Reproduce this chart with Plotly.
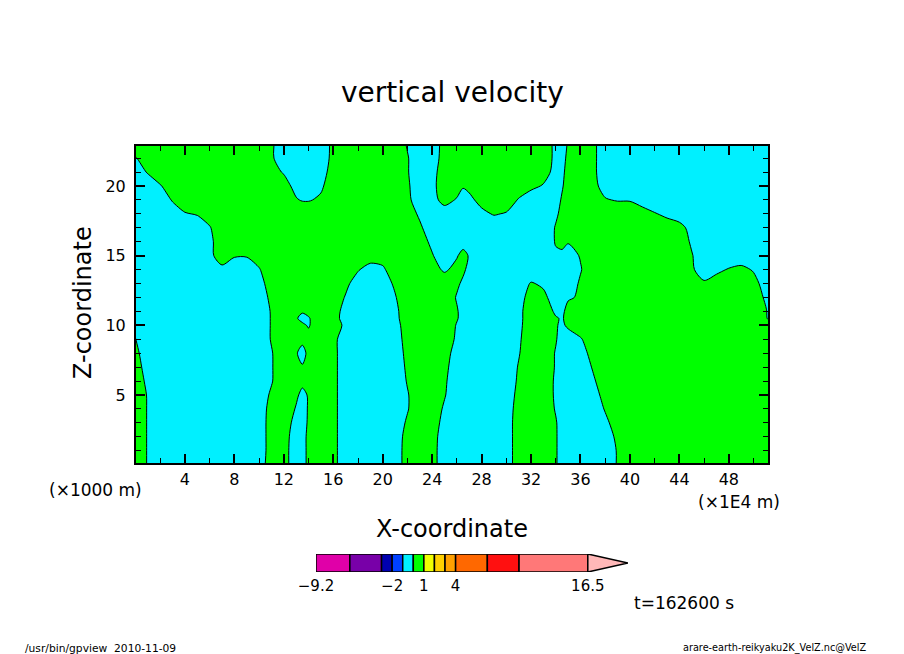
import plotly.graph_objects as go

# grid: only the sign change at w=0 is visible, values in 0.1 m/s
x_km = [0,1,2,3,4,5,6,7,8,9,10,11,12,13,13.5,14,15,16,17,18,19,20,21,22,23,24,25,26,26.5,27,28,29,30,31,32,33,34,34.5,35,36,37,38,39,40,41,42,43,44,45,46,47,48,49,50,51,51.2]
z_km = [0.1,1,2,3,4,5,6,7,8,9,10,10.5,11,12,13,14,15,16,17,18,19,20,21,22,22.9]
w_grid = [
	[9,-1,-10,-20,-26,-26,-26,-26,-24,-14,-5,5,4,-6,-3,2,12,3,-6,-16,-24,-15,-5,4,13,4,-6,-15,-20,-25,-24,-14,-5,5,14,11,1,-4,-8,-18,-18,-8,1,11,20,26,26,26,26,26,26,26,26,26,26,26],
	[9,-1,-10,-20,-26,-26,-26,-26,-24,-15,-5,4,4,-6,-3,2,12,3,-6,-16,-24,-15,-5,4,13,4,-6,-15,-20,-25,-24,-14,-5,5,14,10,1,-4,-9,-18,-18,-8,1,11,20,26,26,26,26,26,26,26,26,26,26,26],
	[9,-1,-10,-20,-26,-26,-26,-26,-24,-15,-5,4,4,-5,-3,2,12,3,-6,-16,-25,-15,-6,4,13,4,-5,-15,-20,-24,-24,-14,-5,5,14,10,1,-4,-9,-18,-16,-7,3,12,21,26,26,26,26,26,26,26,26,26,26,26],
	[9,-1,-10,-20,-26,-26,-26,-26,-24,-15,-5,4,6,-4,-3,1,11,3,-6,-16,-25,-17,-8,2,11,6,-4,-13,-18,-22,-24,-14,-5,5,14,10,1,-5,-9,-19,-12,-3,6,15,24,26,26,26,26,26,26,26,26,26,26,26],
	[9,-1,-10,-20,-26,-26,-26,-26,-25,-15,-6,4,8,-1,-4,1,10,3,-6,-16,-25,-19,-10,-1,9,8,-2,-11,-16,-20,-24,-14,-5,4,14,8,-1,-6,-11,-17,-8,1,9,18,26,26,26,26,26,26,26,26,26,26,26,26],
	[8,-1,-11,-20,-26,-26,-26,-26,-26,-16,-7,2,11,2,-3,1,11,3,-6,-16,-25,-20,-11,-1,8,10,1,-9,-14,-18,-25,-16,-6,3,13,8,-2,-7,-11,-14,-5,4,13,22,26,26,26,26,26,26,26,26,26,26,26,26],
	[7,-3,-12,-22,-26,-26,-26,-26,-26,-19,-10,-1,9,6,3,5,13,3,-6,-16,-25,-19,-9,1,9,11,2,-8,-13,-17,-26,-17,-8,2,11,8,-2,-7,-11,-11,-2,7,16,25,26,26,26,26,26,26,26,26,26,26,26,26],
	[5,-5,-14,-23,-26,-26,-26,-26,-26,-20,-11,-1,8,1,1,5,13,3,-6,-16,-25,-17,-7,2,11,12,3,-6,-11,-16,-25,-19,-9,1,10,8,-1,-6,-11,-8,1,10,19,26,26,26,26,26,26,26,26,26,26,26,26,26],
	[3,-7,-16,-25,-26,-26,-26,-26,-26,-19,-10,-1,9,1,-4,3,12,3,-6,-16,-25,-16,-6,3,13,14,5,-5,-9,-14,-23,-20,-10,-1,9,9,-1,-5,-10,-5,4,13,22,26,26,26,26,26,26,26,26,26,26,26,25,25],
	[1,-8,-18,-26,-26,-26,-26,-26,-26,-19,-9,1,10,5,3,4,12,3,-6,-15,-24,-15,-5,4,13,16,7,-2,-7,-12,-21,-21,-11,-2,8,10,1,-5,-6,-1,6,15,25,26,26,26,26,26,26,26,26,26,25,19,15,14],
	[-10,-13,-21,-26,-26,-26,-26,-26,-26,-18,-9,1,10,5,2,-1,8,7,-3,-12,-21,-14,-4,5,15,18,9,-1,-5,-10,-19,-21,-12,-3,7,10,1,-2,2,6,12,19,26,26,26,26,26,26,26,26,26,26,21,12,4,4],
	[-15,-18,-24,-26,-26,-26,-26,-26,-26,-18,-9,1,10,1,-3,-1,8,4,-4,-12,-22,-13,-3,6,15,19,10,1,-4,-9,-18,-22,-12,-3,6,9,1,-1,3,11,15,22,26,26,26,26,26,26,26,26,26,26,20,10,1,-1],
	[-20,-22,-26,-26,-26,-26,-26,-26,-26,-18,-8,1,10,1,1,3,11,5,-4,-13,-21,-12,-3,7,16,19,10,1,-4,-8,-18,-22,-13,-3,6,7,-2,-2,3,9,13,21,26,26,26,26,26,26,25,24,26,26,19,9,1,-2],
	[-26,-26,-26,-26,-26,-26,-25,-24,-26,-16,-7,3,12,10,10,12,17,8,-1,-11,-19,-10,-1,9,18,17,8,-1,-7,-11,-20,-23,-14,-5,5,3,-6,-5,-1,1,10,19,26,26,26,26,26,22,16,13,16,20,16,7,-2,-4],
	[-26,-26,-26,-26,-26,-21,-15,-14,-16,-13,-4,5,14,20,21,22,20,11,3,-6,-14,-6,2,11,19,13,8,2,-2,-6,-15,-24,-16,-7,1,-2,-10,-12,-8,2,11,20,26,26,26,26,23,14,8,2,6,11,12,4,-5,-7],
	[-26,-26,-26,-26,-25,-16,-7,-3,-7,-8,-1,9,17,26,26,26,24,16,7,1,-5,-2,7,15,14,5,-2,4,2,-3,-12,-21,-20,-13,-9,-10,-12,-11,-10,-1,9,18,26,26,26,26,21,11,2,-7,-3,1,3,-1,-9,-11],
	[-26,-26,-26,-26,-22,-12,-3,6,1,1,6,13,21,26,26,26,26,21,15,8,6,5,12,19,10,1,-8,-1,4,-1,-11,-20,-26,-22,-19,-10,-2,-4,-6,1,10,19,26,26,26,26,19,10,1,-9,-13,-9,-7,-10,-16,-17],
	[-26,-26,-26,-24,-21,-12,-3,7,11,11,14,20,26,26,26,26,26,26,23,18,17,16,19,15,6,-3,-12,-8,-5,-4,-12,-20,-20,-23,-18,-9,1,5,1,5,12,21,26,26,24,21,17,8,-2,-11,-20,-19,-18,-20,-25,-26],
	[-26,-26,-20,-15,-11,-8,-1,9,18,22,24,26,25,22,20,20,22,25,26,26,26,26,19,10,2,-7,-16,-16,-15,-15,-12,-9,-10,-14,-18,-9,1,5,10,12,19,22,20,19,15,11,7,4,-4,-14,-23,-26,-26,-26,-26,-26],
	[-29,-21,-13,-6,-1,1,6,13,21,30,30,23,16,11,10,9,12,17,24,30,30,24,15,6,-2,-10,-6,-8,-11,-10,-3,1,-1,-7,-14,-11,-2,3,8,17,16,11,10,9,5,1,-3,-6,-10,-17,-26,-30,-30,-30,-30,-30],
	[-21,-15,-7,1,8,12,14,20,27,30,26,18,9,1,-1,-1,2,11,20,28,30,21,12,3,-7,-4,4,-1,-5,-3,4,11,7,-1,-7,-11,-4,1,6,15,8,1,-1,-1,-5,-9,-12,-16,-20,-24,-30,-30,-30,-30,-30,-30],
	[-13,-7,-1,7,15,22,24,28,30,26,18,13,5,-4,-8,-11,-2,7,16,25,30,20,11,2,-8,-3,6,5,1,3,10,18,14,7,3,-1,-5,-1,4,13,4,-5,-12,-12,-14,-19,-22,-26,-30,-30,-30,-30,-30,-30,-30,-30],
	[-6,1,8,14,21,29,30,30,30,22,13,4,-1,-8,-13,-14,-5,5,14,23,29,20,10,1,-9,-4,6,13,12,13,17,24,21,16,13,5,-4,-2,3,12,3,-7,-16,-23,-24,-28,-30,-30,-30,-30,-30,-30,-30,-30,-30,-30],
	[-1,8,16,22,28,30,30,30,30,21,11,2,-8,-14,-18,-16,-6,3,13,22,29,19,10,1,-9,-5,4,14,20,23,26,30,30,26,16,7,-3,-3,2,11,3,-7,-16,-26,-30,-30,-30,-30,-30,-30,-30,-30,-30,-30,-30,-30],
	[9,13,21,29,30,30,30,30,30,21,11,2,-8,-17,-21,-16,-7,3,12,22,28,19,9,-1,-10,-6,4,13,20,23,30,30,30,26,16,7,-3,-4,1,11,3,-7,-16,-26,-30,-30,-30,-30,-30,-30,-30,-30,-30,-30,-30,-30],
]

x_ticks = [4,8,12,16,20,24,28,32,36,40,44,48]
z_ticks = [5,10,15,20]

levels = [-9.2,-6,-3,-2,-1,0,1,2,3,4,7,10,16.5]
level_colors = ['#e000a8','#7800a8','#0000b0','#0040ff','#00f0ff','#00ff00','#f0ff00','#ffd000','#ffa000','#ff6800','#ff1010','#ff7878']
over_color = '#ffb8b8'
over_tip = 20.3
bar_ticks = [-9.2,-2,1,4,16.5]
bar_labels = ['\u22129.2','\u22122','1','4','16.5']

# the page has an 8 px body margin, so the figure is that much smaller than the window
W, H = 896, 646
OFFSET = 8
font = 'DejaVu Sans'

def px_x(p):
	return (p-OFFSET)/W

def px_y(p):
	return 1-(p-OFFSET)/H

fig = go.Figure()

fig.add_trace(go.Contour(
	x = x_km,
	y = z_km,
	z = w_grid,
	zmin = -30,
	zmax = 30,
	colorscale = [[0,'#00f0ff'],[.5,'#00f0ff'],[.5,'#00ff00'],[1,'#00ff00']],
	contours = dict(coloring='fill', start=0, end=0, size=1),
	line = dict(color='black', width=1, smoothing=.8),
	showscale = False,
	hoverinfo = 'skip',
))

# color bar at the bottom, one bar per level interval
fig.add_trace(go.Bar(
	x = [b-a for a,b in zip(levels, levels[1:])],
	base = levels[:-1],
	y = [.5]*len(level_colors),
	width = 1,
	orientation = 'h',
	marker = dict(color=level_colors, line=dict(color='black', width=1.5)),
	xaxis = 'x2',
	yaxis = 'y2',
	hoverinfo = 'skip',
))
fig.add_trace(go.Scatter(
	x = [levels[-1],levels[-1],over_tip,levels[-1]],
	y = [0,1,.5,0],
	mode = 'lines',
	fill = 'toself',
	fillcolor = over_color,
	line = dict(color='black', width=1.5),
	xaxis = 'x2',
	yaxis = 'y2',
	hoverinfo = 'skip',
))

fig.update_layout(
	width = W,
	height = H,
	margin = dict(l=0, r=0, t=0, b=0),
	paper_bgcolor = 'white',
	plot_bgcolor = 'white',
	showlegend = False,
	barmode = 'overlay',
	font = dict(family=font, color='black'),
	xaxis = dict(
		domain = [px_x(136),px_x(768)],
		range = [.04,51.17],
		automargin = False,
		tickvals = x_ticks,
		ticktext = [str(v) for v in x_ticks],
		ticks = 'inside',
		ticklen = 9,
		tickwidth = 2,
		tickcolor = 'black',
		minor = dict(tick0=0, dtick=2, ticks='inside', ticklen=5, tickwidth=1, tickcolor='black'),
		showline = True,
		linecolor = 'black',
		linewidth = 2,
		mirror = 'ticks',
		showgrid = False,
		zeroline = False,
		tickfont = dict(size=16),
		ticklabelstandoff = 1,
	),
	yaxis = dict(
		domain = [px_y(463),px_y(146)],
		range = [.12,22.87],
		automargin = False,
		tickvals = z_ticks,
		ticktext = [str(v) for v in z_ticks],
		ticks = 'inside',
		ticklen = 9,
		tickwidth = 2,
		tickcolor = 'black',
		minor = dict(tick0=0, dtick=1, ticks='inside', ticklen=5, tickwidth=1, tickcolor='black'),
		showline = True,
		linecolor = 'black',
		linewidth = 2,
		mirror = 'ticks',
		showgrid = False,
		zeroline = False,
		tickfont = dict(size=16),
		ticklabelstandoff = 5,
	),
	xaxis2 = dict(
		domain = [px_x(316),px_x(628)],
		range = [levels[0],over_tip],
		anchor = 'y2',
		automargin = False,
		tickvals = bar_ticks,
		ticktext = bar_labels,
		ticks = '',
		showgrid = False,
		zeroline = False,
		tickfont = dict(size=15),
		ticklabelstandoff = 3,
	),
	yaxis2 = dict(
		domain = [px_y(572),px_y(554)],
		range = [0,1],
		anchor = 'x2',
		visible = False,
	),
)

def label(text, x, y, size, xanchor='center', angle=0):
	fig.add_annotation(
		text = text,
		x = px_x(x),
		y = px_y(y),
		xref = 'paper',
		yref = 'paper',
		xanchor = xanchor,
		yanchor = 'middle',
		textangle = angle,
		showarrow = False,
		font = dict(size=size),
	)

label('vertical velocity', 452, 93, 28)
label('X-coordinate', 452, 529, 24)
label('Z-coordinate', 83, 303, 24, angle=-90)
label('(\u00d71000 m)', 95, 490, 17)
label('(\u00d71E4 m)', 739, 502, 17)
label('t=162600 s', 684, 603, 17)
label('/usr/bin/gpview  2010-11-09', 23, 648, 10.7, 'left')
label('arare-earth-reikyaku2K_VelZ.nc@VelZ', 868, 648, 9.7, 'right')

fig.write_html('out.html')
